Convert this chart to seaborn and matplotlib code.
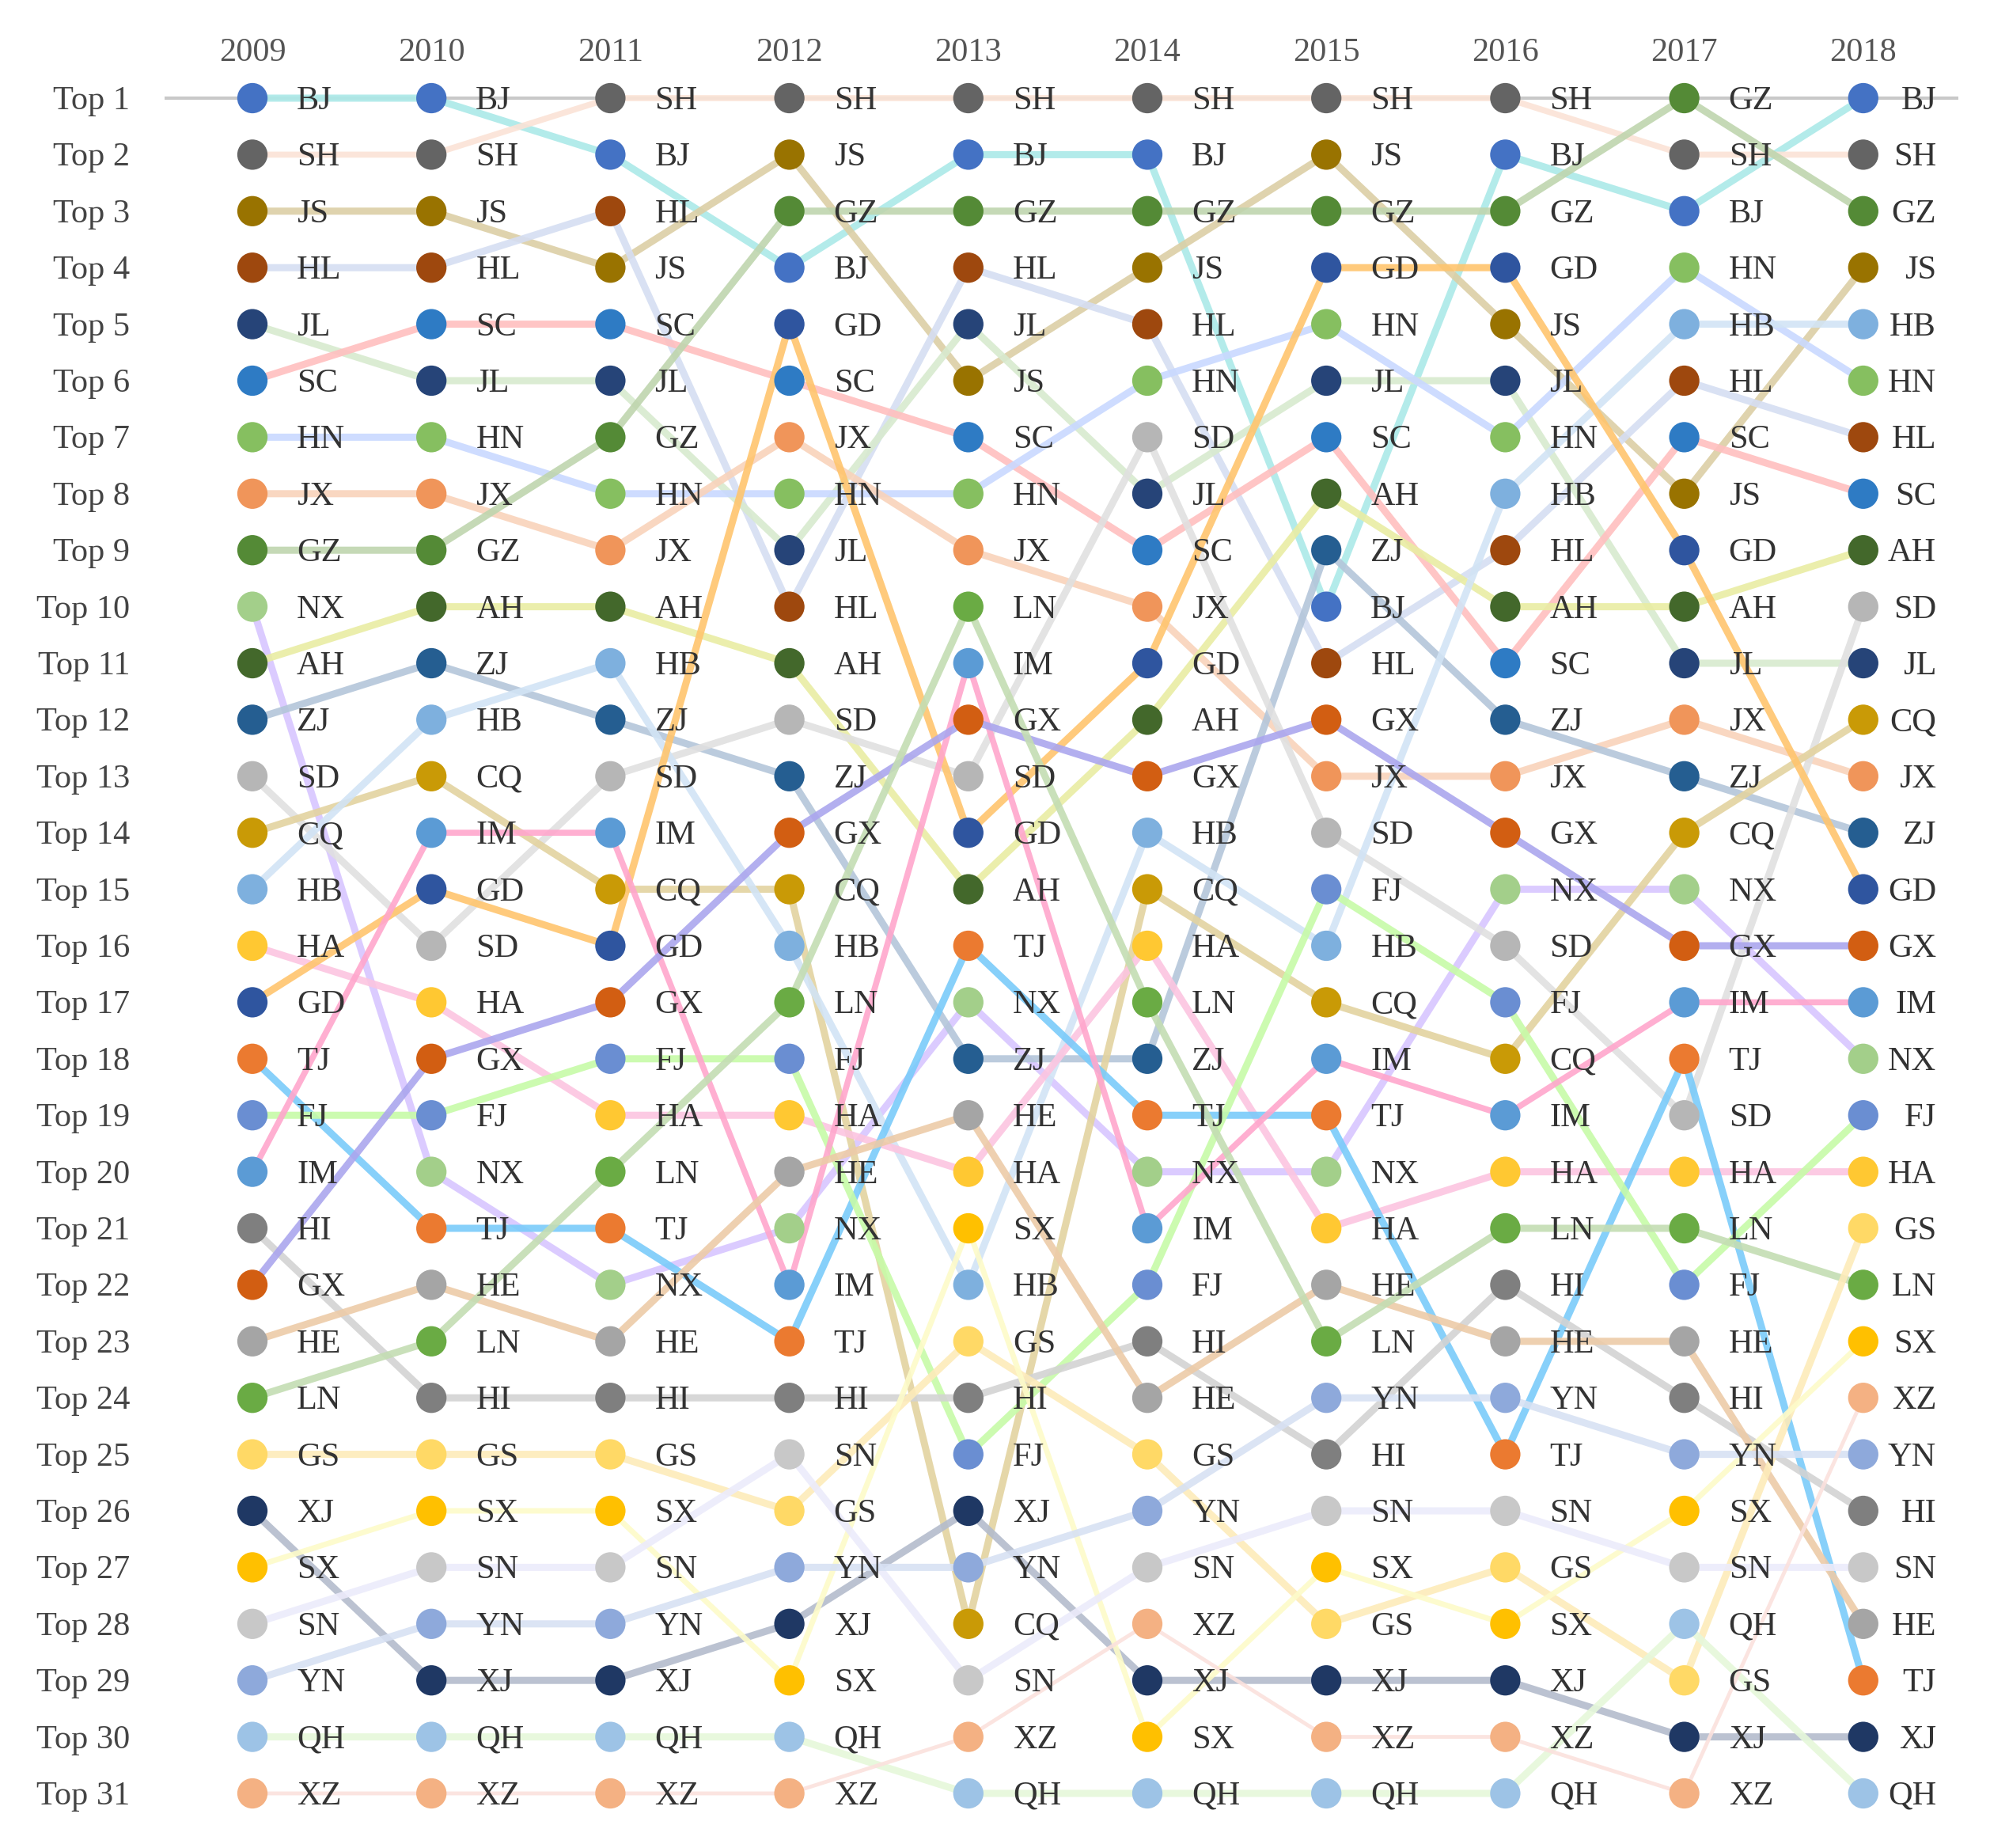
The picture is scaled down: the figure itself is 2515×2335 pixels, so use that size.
import matplotlib
matplotlib.use("agg")
import matplotlib.pyplot as plt
import seaborn as sns
import pandas as pd

# ranking of the 31 provinces per year (index 0 = Top 1)
years = [2009, 2010, 2011, 2012, 2013, 2014, 2015, 2016, 2017, 2018]
rank_2009 = ["BJ", "SH", "JS", "HL", "JL", "SC", "HN", "JX", "GZ", "NX", "AH", "ZJ", "SD", "CQ", "HB", "HA",
             "GD", "TJ", "FJ", "IM", "HI", "GX", "HE", "LN", "GS", "XJ", "SX", "SN", "YN", "QH", "XZ"]
rank_2010 = ["BJ", "SH", "JS", "HL", "SC", "JL", "HN", "JX", "GZ", "AH", "ZJ", "HB", "CQ", "IM", "GD", "SD",
             "HA", "GX", "FJ", "NX", "TJ", "HE", "LN", "HI", "GS", "SX", "SN", "YN", "XJ", "QH", "XZ"]
rank_2011 = ["SH", "BJ", "HL", "JS", "SC", "JL", "GZ", "HN", "JX", "AH", "HB", "ZJ", "SD", "IM", "CQ", "GD",
             "GX", "FJ", "HA", "LN", "TJ", "NX", "HE", "HI", "GS", "SX", "SN", "YN", "XJ", "QH", "XZ"]
rank_2012 = ["SH", "JS", "GZ", "BJ", "GD", "SC", "JX", "HN", "JL", "HL", "AH", "SD", "ZJ", "GX", "CQ", "HB",
             "LN", "FJ", "HA", "HE", "NX", "IM", "TJ", "HI", "SN", "GS", "YN", "XJ", "SX", "QH", "XZ"]
rank_2013 = ["SH", "BJ", "GZ", "HL", "JL", "JS", "SC", "HN", "JX", "LN", "IM", "GX", "SD", "GD", "AH", "TJ",
             "NX", "ZJ", "HE", "HA", "SX", "HB", "GS", "HI", "FJ", "XJ", "YN", "CQ", "SN", "XZ", "QH"]
rank_2014 = ["SH", "BJ", "GZ", "JS", "HL", "HN", "SD", "JL", "SC", "JX", "GD", "AH", "GX", "HB", "CQ", "HA",
             "LN", "ZJ", "TJ", "NX", "IM", "FJ", "HI", "HE", "GS", "YN", "SN", "XZ", "XJ", "SX", "QH"]
rank_2015 = ["SH", "JS", "GZ", "GD", "HN", "JL", "SC", "AH", "ZJ", "BJ", "HL", "GX", "JX", "SD", "FJ", "HB",
             "CQ", "IM", "TJ", "NX", "HA", "HE", "LN", "YN", "HI", "SN", "SX", "GS", "XJ", "XZ", "QH"]
rank_2016 = ["SH", "BJ", "GZ", "GD", "JS", "JL", "HN", "HB", "HL", "AH", "SC", "ZJ", "JX", "GX", "NX", "SD",
             "FJ", "CQ", "IM", "HA", "LN", "HI", "HE", "YN", "TJ", "SN", "GS", "SX", "XJ", "XZ", "QH"]
rank_2017 = ["GZ", "SH", "BJ", "HN", "HB", "HL", "SC", "JS", "GD", "AH", "JL", "JX", "ZJ", "CQ", "NX", "GX",
             "IM", "TJ", "SD", "HA", "LN", "FJ", "HE", "HI", "YN", "SX", "SN", "QH", "GS", "XJ", "XZ"]
rank_2018 = ["BJ", "SH", "GZ", "JS", "HB", "HN", "HL", "SC", "AH", "SD", "JL", "CQ", "JX", "ZJ", "GD", "GX",
             "IM", "NX", "FJ", "HA", "GS", "LN", "SX", "XZ", "YN", "HI", "SN", "HE", "TJ", "XJ", "QH"]
rankings = [rank_2009, rank_2010, rank_2011, rank_2012, rank_2013,
            rank_2014, rank_2015, rank_2016, rank_2017, rank_2018]

# dot colours and (lighter) line colours per province
dot_colors = {
    "BJ": "#4472C4", "SH": "#646464", "JS": "#997300", "HL": "#9E480E", "JL": "#264478",
    "SC": "#2E7BC4", "HN": "#86BF60", "JX": "#F0955A", "GZ": "#548A36", "NX": "#A3CF8A",
    "AH": "#43682B", "ZJ": "#255E91", "SD": "#B6B6B6", "CQ": "#C99A06", "HB": "#7EB0DE",
    "HA": "#FFC832", "GD": "#2F559F", "TJ": "#EB7A30", "FJ": "#6A8ED2", "IM": "#5B9BD5",
    "HI": "#7F7F7F", "GX": "#D25E12", "HE": "#A5A5A5", "LN": "#6AAB44", "GS": "#FFD966",
    "XJ": "#1F3864", "SX": "#FFC000", "SN": "#C8C8C8", "YN": "#8EA9DB", "QH": "#9DC3E6",
    "XZ": "#F4B183",
}
line_colors = {
    "BJ": "#ABE9E8", "SH": "#FBE3D6", "JS": "#DCCFA5", "HL": "#D5DEF2", "JL": "#D8EACF",
    "SC": "#FFBFBF", "HN": "#C9D9FF", "JX": "#F9D3BB", "GZ": "#BFD5AE", "NX": "#D8C6FF",
    "AH": "#E9EDA3", "ZJ": "#B4C6DA", "SD": "#E0E0E0", "CQ": "#E3D3A0", "HB": "#D2E4F5",
    "HA": "#FCC5E0", "GD": "#FFC56E", "TJ": "#7ACBFA", "FJ": "#C7FBA8", "IM": "#FFA6CC",
    "HI": "#D3D3D3", "GX": "#ABA6EE", "HE": "#EDCBA8", "LN": "#C4DDB3", "GS": "#FDEBB9",
    "XJ": "#B4BCCC", "SX": "#FDFBC9", "SN": "#ECEBFB", "YN": "#D7E1F3", "QH": "#E6F8DA",
    "XZ": "#FBE1DD",
}
line_widths = {"XZ": 3.5, "SX": 5.0, "IM": 5.5, "SH": 5.5}

rows = []
for i, order in enumerate(rankings):
    for r, prov in enumerate(order):
        rows.append({"xi": i, "year": years[i], "rank": r + 1, "prov": prov})
df = pd.DataFrame(rows)

sns.set_theme(style="white")
plt.rcParams["font.family"] = ["Liberation Serif", "DejaVu Serif"]

fig = plt.figure(figsize=(25.15, 23.35), dpi=100)
ax = fig.add_axes([0, 0, 1, 1])

# pixel layout of the original: column i at 319 + 226.2*i, rank r at 124 + 71.4*(r-1)
ax.set_xlim((0 - 319) / 226.2, (2515 - 319) / 226.2)
ax.set_ylim(1 + (2335 - 124) / 71.4, 1 - 124 / 71.4)
ax.axis("off")

# thin grey rule along Top 1
ax.plot([-0.491, 9.53], [1, 1], color="#C9C9C9", lw=3, zorder=0.5, solid_capstyle="butt")

for prov in rank_2009:
    sns.lineplot(data=df[df["prov"] == prov], x="xi", y="rank", sort=True, ax=ax,
                 color=line_colors[prov], lw=line_widths.get(prov, 6.5), alpha=0.9,
                 legend=False, zorder=1)

sns.scatterplot(data=df, x="xi", y="rank", hue="prov", palette=dot_colors, s=760,
                linewidth=0, legend=False, ax=ax, zorder=3)

text_kw = dict(fontsize=30.5, color="#333333", va="baseline", zorder=4)
for _, row in df.iterrows():
    if row["xi"] == len(years) - 1:
        ax.text(9.408, row["rank"] + 0.196, row["prov"], ha="right", **text_kw)
    else:
        ax.text(row["xi"] + 0.248, row["rank"] + 0.196, row["prov"], ha="left", **text_kw)

for r in range(1, 32):
    ax.text(-0.685, r + 0.196, f"Top {r}", ha="right", fontsize=30.5, color="#444444",
            va="baseline")
for i, y in enumerate(years):
    ax.text(i, 0.342, str(y), ha="center", fontsize=30.5, color="#555555", va="baseline")

ax.set_xlabel("")
ax.set_ylabel("")
fig.savefig("out.png", dpi=100)
